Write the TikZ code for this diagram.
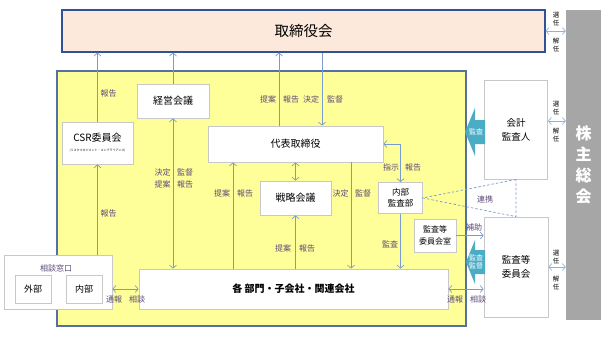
\documentclass[tikz,border=0pt]{standalone}
\usepackage{fontspec}
\setmainfont{Noto Sans CJK JP}
\usetikzlibrary{arrows.meta}
\definecolor{tbfill}{RGB}{252,233,219}
\definecolor{tbdraw}{RGB}{47,84,150}
\definecolor{zonefill}{RGB}{255,255,153}
\definecolor{zonedraw}{RGB}{84,112,165}
\definecolor{kgray}{RGB}{166,166,166}
\definecolor{boxgray}{RGB}{200,200,200}
\definecolor{arrc}{RGB}{122,156,203}
\definecolor{teal}{RGB}{75,172,198}
\definecolor{lblc}{RGB}{90,74,120}
\definecolor{selc}{RGB}{141,179,226}
\tikzset{
  box/.style={draw=boxgray, fill=white, line width=0.8pt, align=center, inner sep=0pt, font=\fontsize{10}{12}\selectfont},
  lbl/.style={text=lblc, font=\fontsize{8}{8}\selectfont, inner sep=0pt},
  sel/.style={text=black, font=\fontsize{6.5}{8.5}\selectfont, inner sep=0pt, align=center},
  arr/.style={draw=arrc, line width=0.7pt, -{Straight Barb[length=3pt,width=7pt]}},
  darr/.style={draw=arrc, line width=0.7pt, {Straight Barb[length=3pt,width=7pt]}-{Straight Barb[length=3pt,width=7pt]}},
  sarr/.style={draw=selc, line width=0.7pt, {Straight Barb[length=3pt,width=7pt]}-{Straight Barb[length=3pt,width=7pt]}},
  dashline/.style={draw=arrc, line width=0.7pt, dash pattern=on 2.5pt off 2pt},
  tealarrow/.style={fill=teal, draw=none},
  tealtext/.style={text=white, font=\fontsize{7}{8.5}\selectfont, inner sep=0pt, align=center}
}
\begin{document}
\begin{tikzpicture}[x=1pt,y=-1pt]
\useasboundingbox (0,0) rectangle (604,338);
% main frames
\node[draw=tbdraw, fill=tbfill, line width=1.1pt, minimum width=483pt, minimum height=42pt, inner sep=0pt, font=\fontsize{14.5}{16}\selectfont] (tb) at (303.5,31) {取締役会};
\node[draw=zonedraw, fill=zonefill, line width=1.2pt, minimum width=409pt, minimum height=255pt, inner sep=0pt] (zone) at (261.5,198.5) {};
\node[fill=kgray, minimum width=35pt, minimum height=310pt, inner sep=0pt, text=white, align=center, font=\bfseries\fontsize{16}{21}\selectfont] (kabu) at (583.5,165) {株\\主\\総\\会};
% boxes
\node[box, minimum width=72pt, minimum height=34pt] (keiei) at (173,101) {経営会議};
\node[box, minimum width=71pt, minimum height=42pt] (csr) at (97.5,143) {CSR委員会\\[-2pt]{\fontsize{3}{4}\selectfont (リスクマネジメント・コンプライアンス)}};
\node[box, minimum width=175pt, minimum height=36pt] (daihyo) at (295.5,144) {代表取締役};
\node[box, minimum width=71pt, minimum height=34pt] (senryaku) at (295.5,198) {戦略会議};
\node[box, minimum width=44pt, minimum height=31pt, font=\fontsize{8.5}{10.5}\selectfont] (naibu) at (400.5,198) {内部\\監査部};
\node[box, minimum width=42pt, minimum height=33pt, font=\fontsize{8}{12}\selectfont] (shitsu) at (435,235.5) {監査等\\委員会室};
\node[box, minimum width=309pt, minimum height=40pt, font=\bfseries\fontsize{10}{12}\selectfont] (kakubu) at (293.5,289) {各 部門・子会社・関連会社};
\node[box, minimum width=108pt, minimum height=54pt] (soudan) at (58,282) {};
\node[lbl] (soudanlbl) at (56,268) {相談窓口};
\node[box, minimum width=36pt, minimum height=28pt, font=\fontsize{9}{11}\selectfont] (gaibu) at (33,289) {外部};
\node[box, minimum width=36pt, minimum height=28pt, font=\fontsize{9}{11}\selectfont] (naibu2) at (84,289) {内部};
\node[box, minimum width=63pt, minimum height=99pt, font=\fontsize{9.5}{14}\selectfont] (kaikei) at (516,129.5) {会計\\監査人};
\node[box, minimum width=64pt, minimum height=100pt, font=\fontsize{9.5}{14}\selectfont] (kansa) at (516,267) {監査等\\委員会};
% connectors
\draw[arr] (csr.north) -- (csr.north |- tb.south);
\draw[arr] (keiei.north) -- (keiei.north |- tb.south);
\draw[arr] ([xshift=-16.5pt]daihyo.north) -- ([xshift=-16.5pt]daihyo.north |- tb.south);
\draw[arr] ([xshift=26.5pt]daihyo.north |- tb.south) -- ([xshift=26.5pt]daihyo.north);
\draw[darr] (keiei.south) -- (keiei.south |- kakubu.north);
\draw[arr] (csr.south |- soudan.north) -- (csr.south);
\draw[arr] ([xshift=-62.5pt]daihyo.south |- kakubu.north) -- ([xshift=-62.5pt]daihyo.south);
\draw[darr] (daihyo.south) -- (senryaku.north);
\draw[arr] (senryaku.south |- kakubu.north) -- (senryaku.south);
\draw[arr] ([xshift=55.5pt]daihyo.south) -- ([xshift=55.5pt]daihyo.south |- kakubu.north);
\draw[darr] (daihyo.east) -| (naibu.north);
\draw[arr] (naibu.south) -- (naibu.south |- kakubu.north);
\draw[darr] (kakubu.west) -- (kakubu.west -| soudan.east);
\draw[darr] (kakubu.east) -- (kakubu.east -| kansa.west);
\draw[arr] (shitsu.east) -- (shitsu.east -| kansa.west);
\draw[sarr] (tb.east) -- (tb.east -| kabu.west);
\draw[sarr] ([yshift=8.5pt]kaikei.east) -- ([yshift=8.5pt]kaikei.east -| kabu.west);
\draw[sarr] (kansa.east) -- (kansa.east -| kabu.west);
\draw[dashline] (kaikei.south) -- (naibu.east) -- (kansa.north) -- cycle;
% teal block arrows
\fill[tealarrow] (465,132) -- (475,108) -- (475,120) -- (485,120) -- (485,144) -- (475,144) -- (475,156) -- cycle;
\node[tealtext] (t1) at (476,132) {監査};
\fill[tealarrow] (466,262) -- (475,240) -- (475,250) -- (485,250) -- (485,274) -- (475,274) -- (475,284) -- cycle;
\node[tealtext] (t2) at (476,262) {監査\\監督};
% labels
\node[lbl] (l1) at (108.5,93) {報告};
\node[lbl] (l2) at (268,99) {提案};
\node[lbl] (l3) at (291,99) {報告};
\node[lbl] (l4) at (311,99) {決定};
\node[lbl] (l5) at (335,99) {監督};
\node[lbl] (l6) at (162.5,172) {決定};
\node[lbl] (l7) at (185,172) {監督};
\node[lbl] (l8) at (162.5,184) {提案};
\node[lbl] (l9) at (185,184) {報告};
\node[lbl] (l10) at (108.5,213) {報告};
\node[lbl] (l11) at (222,193) {提案};
\node[lbl] (l12) at (245,193) {報告};
\node[lbl] (l13) at (340.5,193) {決定};
\node[lbl] (l14) at (363,193) {監督};
\node[lbl] (l15) at (391,167) {指示};
\node[lbl] (l16) at (413,167) {報告};
\node[lbl] (l17) at (283,248) {提案};
\node[lbl] (l18) at (307,248) {報告};
\node[lbl] (l19) at (390,244) {監査};
\node[lbl] (l20) at (114,299) {通報};
\node[lbl] (l21) at (137,299) {相談};
\node[lbl] (l22) at (455,299) {通報};
\node[lbl] (l23) at (478,299) {相談};
\node[lbl] (l24) at (474,227) {補助};
\node[lbl] (l25) at (485,199) {連携};
\node[sel] (s1) at (556,19) {選\\任};
\node[sel] (s2) at (556,45) {解\\任};
\node[sel] (s3) at (556,108) {選\\任};
\node[sel] (s4) at (556,135) {解\\任};
\node[sel] (s5) at (556,257) {選\\任};
\node[sel] (s6) at (556,283) {解\\任};
\end{tikzpicture}
\end{document}
